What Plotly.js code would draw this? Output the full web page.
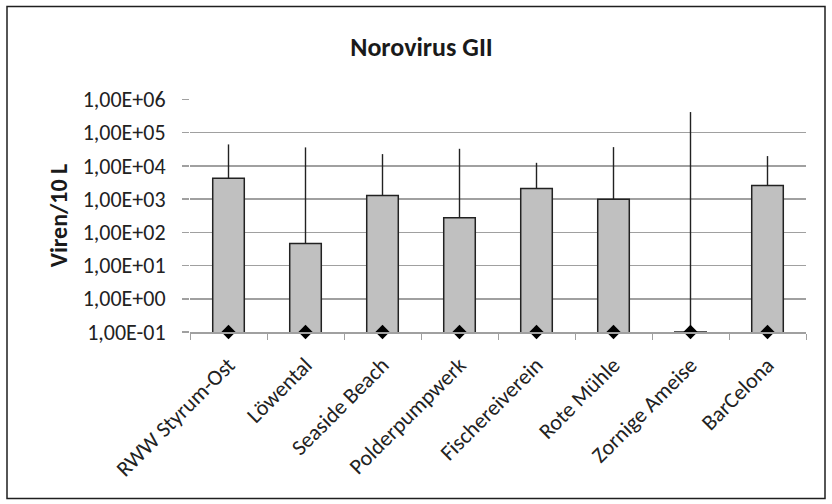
<!DOCTYPE html>
<html>
<head>
<meta charset="utf-8">
<script src="https://cdn.plot.ly/plotly-3.0.1.min.js"></script>
<style>
  html, body { margin: 0; padding: 0; background: #ffffff; }
  #chart { width: 832px; height: 504px; }
</style>
</head>
<body>
<div id="chart"></div>
<script>
// Sampling sites
const sites = ["RWW Styrum-Ost", "Löwental", "Seaside Beach", "Polderpumpwerk",
               "Fischereiverein", "Rote Mühle", "Zornige Ameise", "BarCelona"];

// Mean Norovirus GII concentration (Viren/10 L)
const meanValues = [4200, 46, 1280, 272, 2080, 990, 0.1, 2570];

// Maximum concentration measured at each site (top of the whisker)
const maxValues = [44000, 35800, 22500, 32500, 12300, 36500, 414000, 19600];

// Minimum concentration measured at each site
const minValues = [0.1, 0.1, 0.1, 0.1, 0.1, 0.1, 0.1, 0.1];

// Log axis decades and their labels
const yTickVals = [0.1, 1, 10, 100, 1000, 10000, 100000, 1000000];
const yTickText = ["1,00E-01", "1,00E+00", "1,00E+01", "1,00E+02",
                   "1,00E+03", "1,00E+04", "1,00E+05", "1,00E+06"];

const FONT = "Calibri, Carlito, Lato, 'Open Sans', sans-serif";
const GRID = "#a0a0a0";
const INK = "#222222";

const upper = maxValues.map((m, i) => m - meanValues[i]);

const barTrace = {
  type: "bar",
  x: sites,
  y: meanValues,
  width: 0.41,
  marker: { color: "#c0c0c0", line: { color: INK, width: 1.5 } },
  error_y: {
    type: "data",
    symmetric: false,
    array: upper,
    arrayminus: meanValues.map(() => 0),
    color: INK,
    thickness: 1.4,
    width: 0
  },
  hoverinfo: "x+y",
  showlegend: false
};

const minTrace = {
  type: "scatter",
  mode: "markers",
  x: sites,
  y: minValues,
  marker: { symbol: "diamond", size: 11, color: "#000000" },
  cliponaxis: false,
  showlegend: false
};

// Plot area edges in pixels; the log range reaches a hair past 1E+06
// so that the top gridline is still drawn
const L = 190, R = 806, T = 99, B = 331.7;
const px = v => (v - L) / (R - L);
const py = v => (B - v) / (B - T);

const layout = {
  width: 832,
  height: 504,
  margin: { l: L, r: 832 - R, t: T, b: 504 - B, pad: 0 },
  paper_bgcolor: "#ffffff",
  plot_bgcolor: "#ffffff",
  font: { family: FONT, color: INK, size: 22 },
  title: {
    text: "<b>Norovirus GII</b>",
    font: { family: FONT, size: 26, color: "#1a1a1a" },
    x: 421.5 / 832, xanchor: "center", xref: "container",
    y: 1 - 47 / 504, yanchor: "middle", yref: "container"
  },
  xaxis: {
    type: "category",
    tickson: "boundaries",
    ticks: "outside",
    ticklen: 6,
    tickcolor: GRID,
    tickwidth: 1,
    showline: true,
    linecolor: GRID,
    linewidth: 1.5,
    showgrid: false,
    tickangle: -45,
    ticklabelstandoff: 10,
    tickfont: { family: FONT, size: 22, color: INK },
    fixedrange: true
  },
  yaxis: {
    type: "log",
    range: [-1, 6.01],
    tickvals: yTickVals,
    ticktext: yTickText,
    ticks: "outside",
    ticklen: 7,
    tickcolor: GRID,
    tickwidth: 1.5,
    showgrid: true,
    gridcolor: GRID,
    gridwidth: 1.5,
    showline: false,
    zeroline: false,
    ticklabelstandoff: 12,
    tickfont: { family: FONT, size: 22, color: INK },
    title: {
      text: "<b>Viren/10 L</b>",
      font: { family: FONT, size: 24, color: "#1a1a1a" },
      standoff: 8
    },
    fixedrange: true
  },
  shapes: [{
    type: "rect",
    xref: "paper", yref: "paper",
    x0: px(7), x1: px(825),
    y0: py(498), y1: py(6.5),
    line: { color: "#1f1f1f", width: 1.5 },
    fillcolor: "rgba(0,0,0,0)",
    layer: "below"
  }]
};

Plotly.newPlot("chart", [barTrace, minTrace], layout, { staticPlot: true, displayModeBar: false });
</script>
</body>
</html>
